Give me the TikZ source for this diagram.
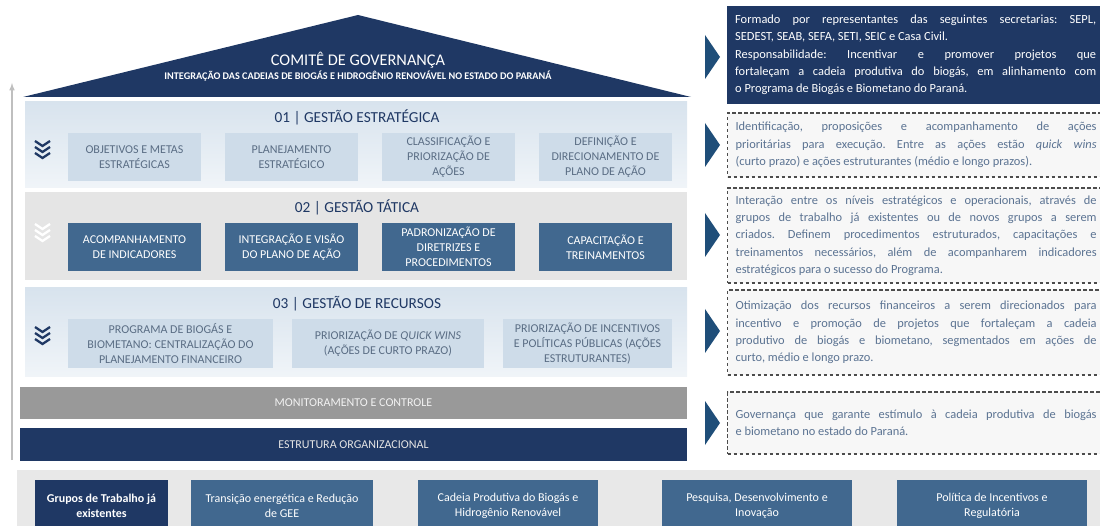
\documentclass[tikz,border=0pt]{standalone}
\usepackage{fontspec}
\setmainfont{Carlito}
\usetikzlibrary{calc, positioning}

\definecolor{marinho}{HTML}{1F3864}
\definecolor{azulaco}{HTML}{41688F}
\definecolor{azulclaro}{HTML}{CEDCE9}
\definecolor{textoazul}{HTML}{5A6D84}
\definecolor{textocinza}{HTML}{5B7392}
\definecolor{setaazul}{HTML}{1F4E79}

\hyphenpenalty=10000
\exhyphenpenalty=10000
\tolerance=9999
\frenchspacing

% tres divisas para baixo: #1 = y do topo, #2 = cor
\newcommand{\divisas}[2]{%
  \foreach \k in {0,1,2}
    \draw[#2, line width=2.3pt] (35,{#1+\k*6}) -- (42.5,{#1+5+\k*6}) -- (50,{#1+\k*6});}

\begin{document}
\begin{tikzpicture}[x=1pt,y=-1pt,
    caixaClara/.style={fill=azulclaro, text=textoazul, align=center, inner sep=2pt,
      font=\fontsize{12}{15}\selectfont},
    caixaEscura/.style={fill=azulaco, text=white, align=center, inner sep=2pt,
      font=\fontsize{12}{15}\selectfont},
    tituloFaixa/.style={text=marinho, font=\fontsize{15.3}{18}\selectfont},
    barra/.style={minimum width=667pt, minimum height=32pt, inner sep=0pt,
      font=\fontsize{12}{14}\selectfont},
    caixaTexto/.style={anchor=west, text width=361pt, inner xsep=8pt, inner ysep=0pt,
      align=justify, font=\fontsize{12.4}{17.3}\selectfont},
    caixaTracejada/.style={caixaTexto, draw=black!70, dash pattern=on 3.5pt off 2.5pt,
      line width=1.2pt, fill=black!3, text=textocinza},
    triang/.style={fill=setaazul}
  ]
  \useasboundingbox (0,0) rectangle (1100,526);
  \clip (0,0) rectangle (1100,526);

  %Seta lateral
  \coordinate (setaBase) at (12,460);
  \coordinate (setaTopo) at (12,83);
  \draw[-latex, black!25, line width=1.5pt] (setaBase) -- (setaTopo);

  %Telhado
  \fill[marinho] (23,97) -- (358,15) -- (691,97) -- cycle;
  \node[text=white, font=\fontsize{16.3}{18}\selectfont] (comite) at (358,60) {COMITÊ DE GOVERNANÇA};
  \node[text=white, font=\fontsize{10.2}{12}\selectfont\bfseries] (subtitulo) at (358,76)
    {INTEGRAÇÃO DAS CADEIAS DE BIOGÁS E HIDROGÊNIO RENOVÁVEL NO ESTADO DO PARANÁ};

  %Faixas
  \path[top color=azulclaro!80, bottom color=azulclaro!30] (25,102) rectangle (687,188);
  \fill[black!10] (25,192) rectangle (687,280);
  \path[top color=azulclaro!80, bottom color=azulclaro!30] (25,288) rectangle (687,377);

  \node[tituloFaixa] (t1) at (357,117) {01 | GESTÃO ESTRATÉGICA};
  \node[tituloFaixa] (t2) at (357,207) {02 | GESTÃO TÁTICA};
  \node[tituloFaixa] (t3) at (357,304) {03 | GESTÃO DE RECURSOS};

  \divisas{141}{marinho}
  \divisas{224}{white}
  \divisas{327}{marinho}

  % caixas 01
  \foreach \cx/\txt [count=\i] in {134.5/{OBJETIVOS E METAS\\ESTRATÉGICAS},
      291.5/{PLANEJAMENTO\\ESTRATÉGICO},
      448.5/{CLASSIFICAÇÃO E\\PRIORIZAÇÃO DE\\AÇÕES},
      605.5/{DEFINIÇÃO E\\DIRECIONAMENTO DE\\PLANO DE AÇÃO}}
    \node[caixaClara, minimum width=133pt, minimum height=48pt] (e\i) at (\cx,157) {\txt};

  % caixas 02
  \foreach \cx/\txt [count=\i] in {134.5/{ACOMPANHAMENTO\\DE INDICADORES},
      291.5/{INTEGRAÇÃO E VISÃO\\DO PLANO DE AÇÃO},
      448.5/{PADRONIZAÇÃO DE\\DIRETRIZES E\\PROCEDIMENTOS},
      605.5/{CAPACITAÇÃO E\\TREINAMENTOS}}
    \node[caixaEscura, minimum width=133pt, minimum height=48pt] (ta\i) at (\cx,247) {\txt};

  % caixas 03
  \node[caixaClara, minimum width=205pt, minimum height=49pt] (r1) at (170.5,343.5)
    {PROGRAMA DE BIOGÁS E\\BIOMETANO: CENTRALIZAÇÃO DO\\PLANEJAMENTO FINANCEIRO};
  \node[caixaClara, minimum width=192pt, minimum height=49pt] (r2) at (388,343.5)
    {PRIORIZAÇÃO DE \textit{QUICK WINS}\\(AÇÕES DE CURTO PRAZO)};
  \node[caixaClara, minimum width=169pt, minimum height=49pt] (r3) at (587.5,343.5)
    {PRIORIZAÇÃO DE INCENTIVOS\\E POLÍTICAS PÚBLICAS (AÇÕES\\ESTRUTURANTES)};

  %Base
  \node[barra, fill=black!40, text=black!5] (monit) at (353.5,403) {MONITORAMENTO E CONTROLE};
  \node[barra, fill=marinho, text=black!10, minimum height=33pt] (estrut) at (353.5,444.5) {ESTRUTURA ORGANIZACIONAL};

  %Grupos de trabalho
  \fill[black!9] (17,470) rectangle (1100,530);
  \node[caixaEscura, fill=marinho, minimum width=133pt, minimum height=51pt,
    font=\fontsize{12}{15}\selectfont\bfseries] (g1) at (101.5,505.5) {Grupos de Trabalho já\\existentes};
  \foreach \cx/\lw/\txt [count=\i from 2] in {282/182/{Transição energética e Redução\\de GEE},
      508/180/{Cadeia Produtiva do Biogás e\\Hidrogênio Renovável},
      757/190/{Pesquisa, Desenvolvimento e\\Inovação},
      992/190/{Política de Incentivos e\\Regulatória}}
    \node[caixaEscura, minimum width=\lw pt, minimum height=51pt] (g\i) at (\cx,505.5) {\txt};

  %Descricoes
  \foreach \cy in {57,145,235,331,423}
    \fill[triang] (705,\cy-22) -- (720,\cy) -- (705,\cy+22) -- cycle;

  \node[caixaTexto, fill=marinho, text=white, minimum height=98pt] (d1) at (727,55)
    {Formado por representantes das seguintes secretarias: SEPL,\linebreak
     SEDEST, SEAB, SEFA, SETI, SEIC e Casa Civil.\\
     Responsabilidade: Incentivar e promover projetos que\linebreak
     fortaleçam a cadeia produtiva do biogás, em alinhamento com\linebreak
     o Programa de Biogás e Biometano do Paraná.};
  \node[caixaTracejada, minimum height=64pt] (d2) at (727,145)
    {Identificação, proposições e acompanhamento de ações\linebreak
     prioritárias para execução. Entre as ações estão \textit{quick wins}\linebreak
     (curto prazo) e ações estruturantes (médio e longo prazos).};
  \node[caixaTracejada, minimum height=95pt] (d3) at (727,235.5)
    {Interação entre os níveis estratégicos e operacionais, através de\linebreak
     grupos de trabalho já existentes ou de novos grupos a serem\linebreak
     criados. Definem procedimentos estruturados, capacitações e\linebreak
     treinamentos necessários, além de acompanharem indicadores\linebreak
     estratégicos para o sucesso do Programa.};
  \node[caixaTracejada, minimum height=85pt] (d4) at (727,332.5)
    {Otimização dos recursos financeiros a serem direcionados para\linebreak
     incentivo e promoção de projetos que fortaleçam a cadeia\linebreak
     produtivo de biogás e biometano, segmentados em ações de\linebreak
     curto, médio e longo prazo.};
  \node[caixaTracejada, minimum height=62pt] (d5) at (727,423)
    {Governança que garante estímulo à cadeia produtiva de biogás\linebreak
     e biometano no estado do Paraná.};
\end{tikzpicture}
\end{document}
